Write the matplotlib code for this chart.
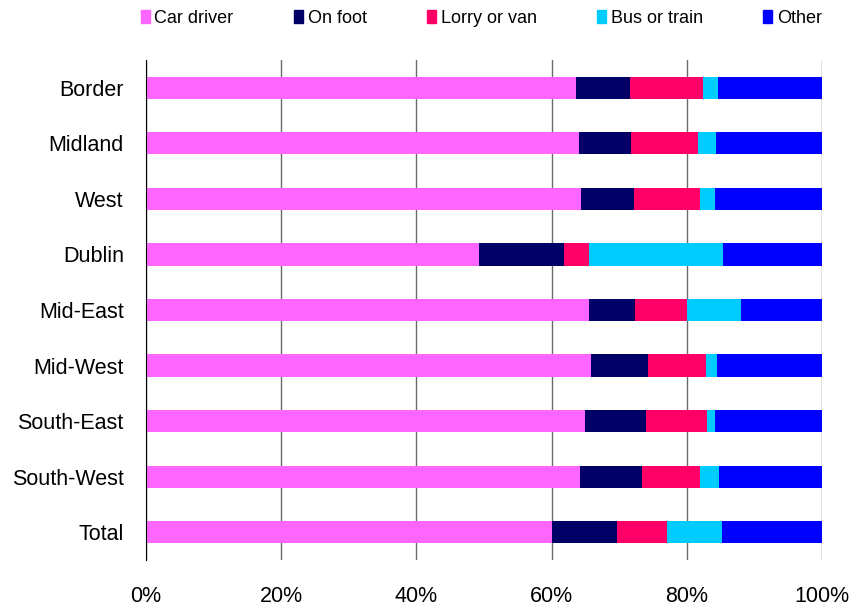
import numpy as np
import matplotlib.pyplot as plt
from matplotlib.patches import Patch
from matplotlib.ticker import PercentFormatter

plt.rcParams['font.family'] = ['Liberation Sans', 'DejaVu Sans']

regions = ['Border', 'Midland', 'West', 'Dublin', 'Mid-East', 'Mid-West',
           'South-East', 'South-West', 'Total']
modes = ['Car driver', 'On foot', 'Lorry or van', 'Bus or train', 'Other']
colors = ['#FF66FF', '#000066', '#FF0066', '#00CCFF', '#0000FF']

# share of each mode, %
car = [63.6, 64.0, 64.3, 49.2, 65.6, 65.8, 64.9, 64.2, 60.0]
foot = [8.0, 7.8, 7.9, 12.7, 6.7, 8.5, 9.0, 9.2, 9.6]
lorry = [10.8, 9.8, 9.8, 3.6, 7.8, 8.5, 9.1, 8.6, 7.4]
bus = [2.2, 2.7, 2.1, 19.9, 7.9, 1.7, 1.2, 2.8, 8.2]
other = [15.4, 15.7, 15.9, 14.6, 12.0, 15.5, 15.8, 15.2, 14.8]

series = [car, foot, lorry, bus, other]

fig = plt.figure(figsize=(8.52, 6.07), dpi=100)
ax = fig.add_axes([0.1714, 0.0774, 0.7934, 0.8238])

y = np.arange(len(regions))
left = np.zeros(len(regions))
for vals, name, col in zip(series, modes, colors):
    ax.barh(y, vals, left=left, height=0.4, color=col, label=name, zorder=3)
    left += np.array(vals)

ax.set_ylim(len(regions) - 0.5, -0.5)
ax.set_xlim(0, 100)
ax.set_yticks(y)
ax.set_yticklabels(regions, fontsize=15.5)
ax.set_xticks([0, 20, 40, 60, 80, 100])
ax.xaxis.set_major_formatter(PercentFormatter(decimals=0))
ax.tick_params(axis='x', labelsize=15.5, length=0, pad=19)
ax.tick_params(axis='y', length=0, pad=16)
ax.grid(axis='x', color='#6a6a6a', linewidth=1, zorder=0)
for s in ['top', 'right', 'bottom']:
    ax.spines[s].set_visible(False)
ax.spines['left'].set_color('black')
ax.spines['left'].set_zorder(4)

handles = [Patch(color=c, label=m) for m, c in zip(modes, colors)]
fig.legend(handles=handles, loc='upper center', bbox_to_anchor=(0.565, 1.01),
           ncol=5, frameon=False, fontsize=13, handlelength=0.5,
           handleheight=0.75, handletextpad=0.25, columnspacing=3.35)

fig.savefig('out.png', dpi=100)
